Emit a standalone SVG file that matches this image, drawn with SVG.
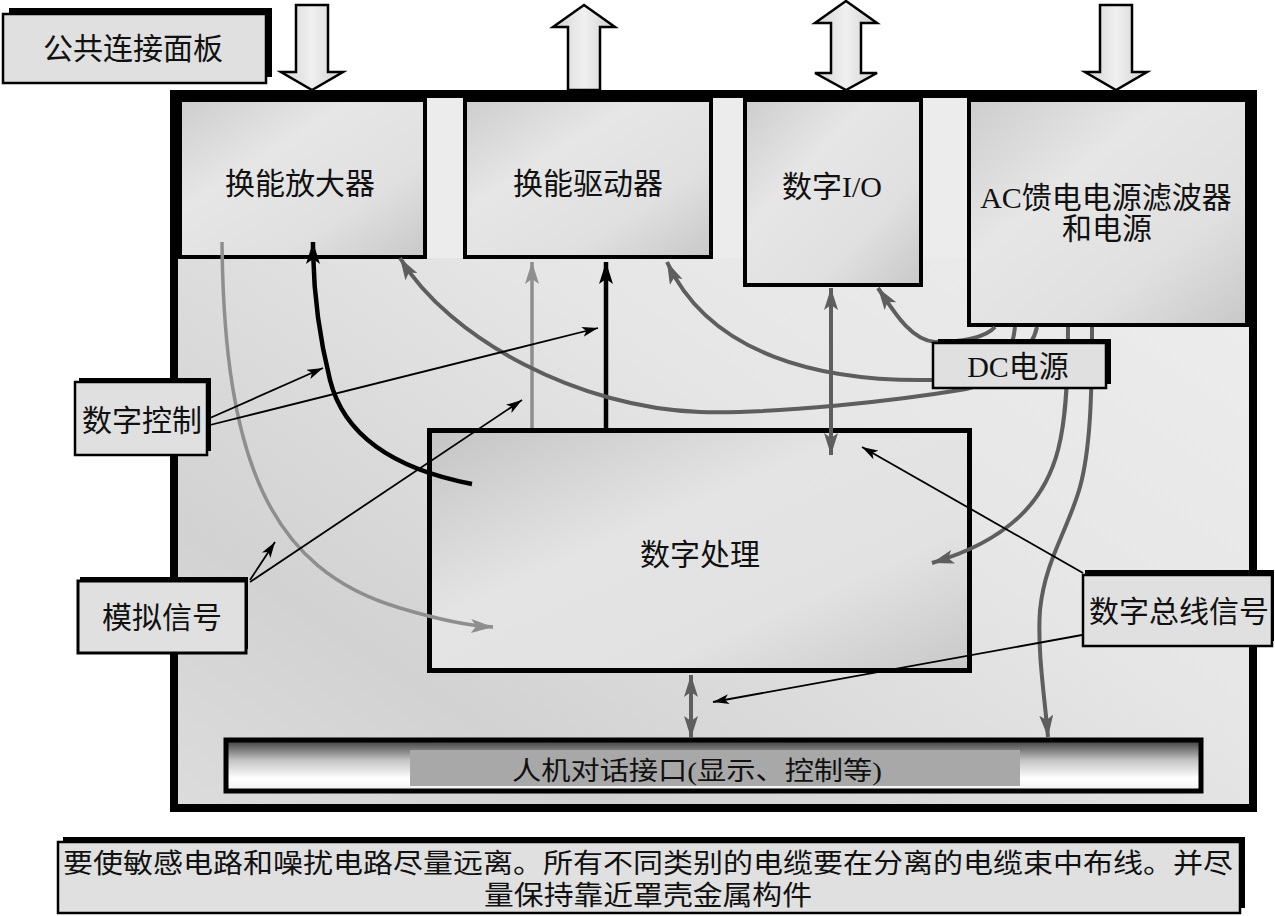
<svg xmlns="http://www.w3.org/2000/svg" width="1275" height="916" viewBox="0 0 1275 916">
<defs>
<style>
.t{font-family:'Liberation Serif','Noto Sans CJK SC',serif;font-size:30px;fill:#111;text-anchor:middle;dominant-baseline:central}
.lbl{fill:#e0e0e0;stroke:#000;stroke-width:2.5}
.sh{fill:#000}
.blk{fill:url(#gArrow);stroke:#000;stroke-width:2.5;stroke-linejoin:miter}
.box{fill:url(#gBox);stroke:#000;stroke-width:4}
.cd{fill:none;stroke:#5e5e5e;stroke-width:4}
.cl{fill:none;stroke:#8e8e8e;stroke-width:3.5}
.cb{fill:none;stroke:#000;stroke-width:1.8}
.ck{fill:none;stroke:#000;stroke-width:4.5}
</style>
<linearGradient id="gArrow" x1="0" y1="0" x2="1" y2="0">
<stop offset="0" stop-color="#d4d4d4"/><stop offset="0.5" stop-color="#f0f0f0"/><stop offset="1" stop-color="#d0d0d0"/>
</linearGradient>
<linearGradient id="gMain" x1="1" y1="0" x2="0" y2="1">
<stop offset="0" stop-color="#efefef"/><stop offset="0.45" stop-color="#e6e6e6"/><stop offset="0.8" stop-color="#d2d2d2"/><stop offset="1" stop-color="#dcdcdc"/>
</linearGradient>
<linearGradient id="gBox" x1="0" y1="0" x2="1" y2="1">
<stop offset="0" stop-color="#cdcdcd"/><stop offset="0.35" stop-color="#e6e6e6"/><stop offset="0.7" stop-color="#e0e0e0"/><stop offset="1" stop-color="#c8c8c8"/>
</linearGradient>
<linearGradient id="gProc" x1="0" y1="0" x2="1" y2="1">
<stop offset="0" stop-color="#c4c4c4"/><stop offset="0.4" stop-color="#e4e4e4"/><stop offset="0.7" stop-color="#e2e2e2"/><stop offset="1" stop-color="#c8c8c8"/>
</linearGradient>
<linearGradient id="gBar" x1="0" y1="0" x2="0" y2="1">
<stop offset="0" stop-color="#3a3a3a"/><stop offset="0.4" stop-color="#c4c4c4"/><stop offset="0.75" stop-color="#ffffff"/><stop offset="1" stop-color="#f0f0f0"/>
</linearGradient>
<marker id="mb" viewBox="0 0 16 10" refX="16" refY="5" markerWidth="16" markerHeight="10" markerUnits="userSpaceOnUse" orient="auto"><path d="M0,0 L16,5 L0,10 L4,5 Z" fill="#000"/></marker>
<marker id="mk" viewBox="0 0 22 14" refX="22" refY="7" markerWidth="22" markerHeight="14" markerUnits="userSpaceOnUse" orient="auto"><path d="M0,0 L22,7 L0,14 L5,7 Z" fill="#000"/></marker>
<marker id="mg" viewBox="0 0 22 14" refX="22" refY="7" markerWidth="22" markerHeight="14" markerUnits="userSpaceOnUse" orient="auto"><path d="M0,0 L22,7 L0,14 L5,7 Z" fill="#5e5e5e"/></marker>
<marker id="mgs" viewBox="0 0 22 14" refX="22" refY="7" markerWidth="22" markerHeight="14" markerUnits="userSpaceOnUse" orient="auto-start-reverse"><path d="M0,0 L22,7 L0,14 L5,7 Z" fill="#5e5e5e"/></marker>
<marker id="ml" viewBox="0 0 22 14" refX="22" refY="7" markerWidth="22" markerHeight="14" markerUnits="userSpaceOnUse" orient="auto"><path d="M0,0 L22,7 L0,14 L5,7 Z" fill="#8e8e8e"/></marker>
</defs>

<rect width="1275" height="916" fill="#fff"/>

<g id="panel">
<rect class="sh" x="9" y="8" width="263" height="69"/>
<rect class="lbl" x="3" y="14" width="263" height="69"/>
<text class="t" x="133" y="48">公共连接面板</text>
</g>

<g id="io-arrows">
<path class="blk" d="M296,5 H328 V72 H343 L312,90 L281,72 H296 Z"/>
<path class="blk" d="M584,5 L615,27 H600 V90 H568 V27 H553 Z"/>
<path class="blk" d="M846,1 L877,23 H861 V73 H877 L846,90 L815,73 H831 V23 H815 Z"/>
<path class="blk" d="M1100,5 H1132 V72 H1147 L1116,90 L1085,72 H1100 Z"/>
</g>

<g id="enclosure">
<rect x="177" y="98" width="1079" height="714" fill="#000"/>
<rect x="174" y="94" width="1079" height="714" fill="url(#gMain)" stroke="#000" stroke-width="8"/>
<rect x="178" y="98" width="1071" height="160" fill="#ececec"/>
</g>

<g id="amp">
<rect class="box" x="180" y="100" width="245" height="157"/>
<text class="t" x="300" y="183">换能放大器</text>
</g>
<g id="driver">
<rect class="box" x="465" y="100" width="246" height="157"/>
<text class="t" x="588" y="183">换能驱动器</text>
</g>
<g id="dio">
<rect class="box" x="745" y="100" width="176" height="185"/>
<text class="t" x="832" y="186">数字I/O</text>
</g>
<g id="acpower">
<rect class="box" x="969" y="100" width="278" height="225"/>
<text class="t" x="1106" y="197">AC馈电电源滤波器</text>
<text class="t" x="1107" y="228">和电源</text>
</g>
<g id="processing">
<rect x="429.5" y="430.5" width="540" height="240" fill="url(#gProc)" stroke="#000" stroke-width="5"/>
<text class="t" x="700" y="554">数字处理</text>
</g>
<g id="hmi">
<rect x="226" y="740" width="975" height="51" fill="url(#gBar)" stroke="#000" stroke-width="5"/>
<rect x="410" y="750" width="610" height="36" fill="#a8a8a8"/>
<text class="t" x="697" y="771" style="font-size:26px" textLength="370" lengthAdjust="spacingAndGlyphs">人机对话接口(显示、控制等)</text>
</g>

<g id="connectors">
<path class="cl" d="M222,242 C224,460 270,570 400,608 C440,620 470,626 493,627" marker-end="url(#ml)"/>
<path class="ck" d="M472,484 C400,470 345,440 330,380 C318,332 313,290 313,242" marker-end="url(#mk)"/>
<path class="cl" d="M532,428 V262" marker-end="url(#ml)"/>
<path class="ck" d="M606,428 V262" marker-end="url(#mk)"/>
<path class="cd" d="M1037,327 C1030,360 990,378 932,380 C820,382 710,355 667,262" marker-end="url(#mg)"/>
<path class="cd" d="M995,327 C985,338 960,342 935,342 C910,340 893,310 878,288" marker-end="url(#mg)"/>
<path class="cd" d="M1015,327 C1010,370 990,385 960,390 C900,400 780,414 700,412 C580,408 450,340 400,258" marker-end="url(#mg)"/>
<path class="cd" d="M1068,327 C1068,380 1066,420 1058,450 C1045,500 1010,540 932,563" marker-end="url(#mg)"/>
<path class="cd" d="M1092,327 C1092,400 1090,450 1080,487 C1068,530 1045,560 1040,610 C1037,650 1045,700 1048,737" marker-end="url(#mg)"/>
<path class="cd" d="M831,288 V455" marker-start="url(#mgs)" marker-end="url(#mgs)"/>
<path class="cd" d="M691,675 V738" marker-start="url(#mgs)" marker-end="url(#mgs)"/>
<path class="cb" d="M210,418 L323,368" marker-end="url(#mb)"/>
<path class="cb" d="M210,425 L598,328" marker-end="url(#mb)"/>
<path class="cb" d="M250,580 L275,542" marker-end="url(#mb)"/>
<path class="cb" d="M250,582 L522,400" marker-end="url(#mb)"/>
<path class="cb" d="M1083,573 L862,447" marker-end="url(#mb)"/>
<path class="cb" d="M1082,635 L713,702" marker-end="url(#mb)"/>
</g>

<g id="dcpower">
<rect class="sh" x="938" y="339" width="173" height="45"/>
<rect class="lbl" x="933" y="343" width="173" height="45"/>
<text class="t" x="1018" y="366">DC电源</text>
</g>
<g id="digctrl">
<rect class="sh" x="79" y="378" width="132" height="73"/>
<rect class="lbl" x="75" y="382" width="132" height="73"/>
<text class="t" x="142" y="420">数字控制</text>
</g>
<g id="analog">
<rect class="sh" x="80" y="577" width="168" height="72"/>
<rect class="lbl" x="78" y="581" width="168" height="72" style="stroke-width:3"/>
<text class="t" x="162" y="617">模拟信号</text>
</g>
<g id="bus">
<rect class="sh" x="1085" y="570" width="189" height="71"/>
<rect class="lbl" x="1083" y="575" width="189" height="71"/>
<text class="t" x="1179" y="611">数字总线信号</text>
</g>

<g id="note">
<rect class="sh" x="63" y="837" width="1182" height="71"/>
<rect class="lbl" x="58" y="842" width="1182" height="71"/>
<text class="t" x="648" y="864" style="font-size:27px" textLength="1170" lengthAdjust="spacingAndGlyphs">要使敏感电路和噪扰电路尽量远离。所有不同类别的电缆要在分离的电缆束中布线。并尽</text>
<text class="t" x="648" y="896" style="font-size:27px" textLength="328" lengthAdjust="spacingAndGlyphs">量保持靠近罩壳金属构件</text>
</g>
</svg>
